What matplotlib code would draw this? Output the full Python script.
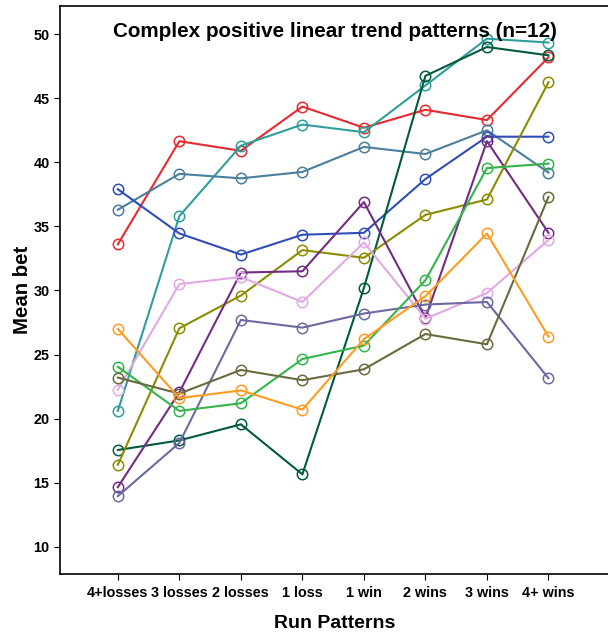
import numpy as np
import matplotlib
matplotlib.use('Agg')
import matplotlib.pyplot as plt

# kategorie na osi x
patterns = ['4+losses', '3 losses', '2 losses', '1 loss', '1 win', '2 wins', '3 wins', '4+ wins']

# srednie zaklady dla 12 graczy
red = [33.6, 41.65, 40.9, 44.35, 42.7, 44.1, 43.3, 48.2]
teal = [20.6, 35.8, 41.3, 42.95, 42.35, 46.0, 49.65, 49.35]
steel = [36.3, 39.1, 38.75, 39.25, 41.2, 40.65, 42.5, 39.2]
blue = [37.9, 34.45, 32.8, 34.35, 34.5, 38.7, 42.0, 42.0]
dark_green = [17.55, 18.3, 19.55, 15.65, 30.2, 46.75, 49.0, 48.35]
olive = [16.4, 27.05, 29.6, 33.15, 32.55, 35.9, 37.1, 46.25]
purple = [14.65, 22.05, 31.4, 31.5, 36.9, 27.85, 41.65, 34.5]
pink = [22.25, 30.5, 31.05, 29.1, 33.75, 27.8, 29.8, 33.95]
slate = [13.95, 18.1, 27.7, 27.1, 28.2, 28.9, 29.1, 23.15]
green = [24.05, 20.6, 21.2, 24.65, 25.7, 30.8, 39.55, 39.9]
khaki = [23.2, 21.95, 23.8, 23.0, 23.85, 26.6, 25.8, 37.3]
orange = [27.0, 21.6, 22.2, 20.7, 26.2, 29.55, 34.45, 26.4]

series = [
    (red, '#E8292F'),
    (teal, '#2E9E9B'),
    (steel, '#4B7E9B'),
    (blue, '#2F4DB8'),
    (dark_green, '#005A3C'),
    (olive, '#8C8C00'),
    (purple, '#722C82'),
    (pink, '#E2A8E6'),
    (slate, '#6A6AA0'),
    (green, '#33B54C'),
    (khaki, '#6A6A3E'),
    (orange, '#FF9B22'),
]

plt.rcParams['font.family'] = ['Liberation Sans', 'DejaVu Sans']

fig = plt.figure(figsize=(6.08, 6.32), dpi=100)
# os troche wychodzi za prawa krawedz, jak w oryginale
ax = fig.add_axes([60 / 608, 1 - 574.3 / 632, 550 / 608, (574.3 - 6) / 632])

x = np.arange(len(patterns))
for vals, col in series:
    ax.plot(x, vals, color=col, lw=1.5, marker='o', markersize=7.5,
            markerfacecolor='none', markeredgecolor=col, markeredgewidth=1.1)

ax.set_xlim(-0.94, 8.0)
ax.set_ylim(7.85, 52.2)
ax.set_xticks(x)
ax.set_xticklabels(patterns, fontsize=10.4, fontweight='bold')
ax.set_yticks(np.arange(10, 51, 5))
ax.tick_params(axis='y', labelsize=10.4, length=4)
ax.tick_params(axis='x', length=4, pad=4.5)
for lab in ax.get_yticklabels():
    lab.set_fontweight('bold')

ax.set_xlabel('Run Patterns', fontsize=14, fontweight='bold', labelpad=11)
ax.set_ylabel('Mean bet', fontsize=14.7, fontweight='bold')
ax.yaxis.set_label_coords(-0.051, 0.5)
ax.text(0.5, 0.955, 'Complex positive linear trend patterns (n=12)',
        transform=ax.transAxes, ha='center', va='center',
        fontsize=14.9, fontweight='bold')

ax.spines['right'].set_visible(False)
for s in ['left', 'bottom', 'top']:
    ax.spines[s].set_linewidth(1.2)

fig.savefig('out.png', dpi=100)
